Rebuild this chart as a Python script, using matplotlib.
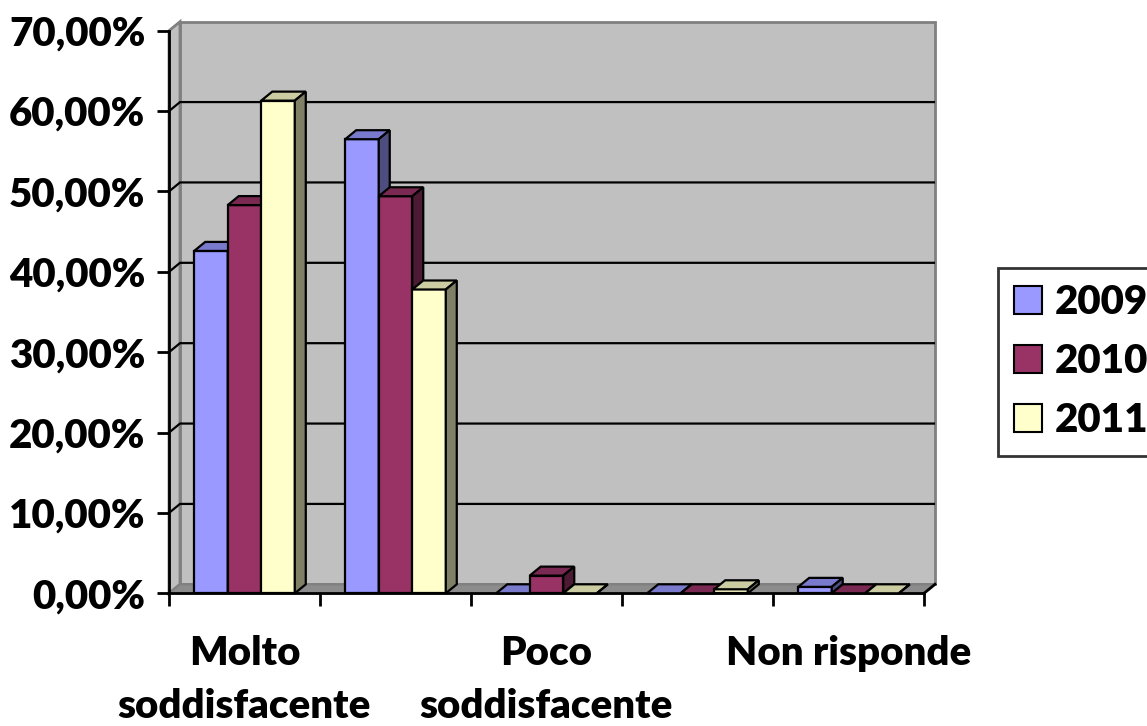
import numpy as np
import matplotlib.pyplot as plt
from matplotlib.patches import Polygon, Patch
from matplotlib.colors import to_rgb

# data (percent)
categories = ["Molto\nsoddisfacente", "Soddisfacente", "Poco\nsoddisfacente",
              "Per niente\nsoddisfacente", "Non risponde"]
years = ["2009", "2010", "2011"]
v2009 = [42.6, 56.5, 0.0, 0.0, 0.8]
v2010 = [48.3, 49.4, 2.2, 0.0, 0.0]
v2011 = [61.3, 37.8, 0.0, 0.5, 0.0]
series = [v2009, v2010, v2011]
colors = ["#9999FF", "#993366", "#FFFFCC"]
yticks = np.arange(0, 71, 10)

plt.rcParams['font.family'] = ['Lato', 'DejaVu Sans']
plt.rcParams['font.weight'] = 'heavy'
FS = 29

def shade(c, f):
    r, g, b = to_rgb(c)
    return (r * f, g * f, b * f)

fig = plt.figure(figsize=(11.47, 7.26), dpi=100)
W, H = 755, 562.6
ax = fig.add_axes([169 / 1147, 1 - 593.3 / 726, W / 1147, H / 726])
n = len(categories)
ymax = 70
ax.set_xlim(0, n)
ax.set_ylim(0, ymax)

# depth of the fake 3d box, pixels -> data units
dx = 11 * n / W
dy = 9 * ymax / H

# back wall, side wall, floor
ax.add_patch(Polygon([(dx, dy), (n + dx, dy), (n + dx, ymax + dy), (dx, ymax + dy)],
                     closed=True, fc="#C0C0C0", ec="#808080", lw=2, zorder=0.5, clip_on=False))
ax.add_patch(Polygon([(0, 0), (dx, dy), (dx, ymax + dy), (0, ymax)],
                     closed=True, fc="#C0C0C0", ec="#808080", lw=2, zorder=0.6, clip_on=False))
ax.add_patch(Polygon([(0, 0), (n, 0), (n + dx, dy), (dx, dy)],
                     closed=True, fc="#8C8C8C", ec="#808080", lw=1.5, zorder=0.7, clip_on=False))
for t in yticks[1:-1]:
    ax.plot([0, dx, n + dx], [t, t + dy, t + dy], color="black", lw=1.6,
            zorder=0.8, clip_on=False, solid_capstyle="butt")
ax.plot([n, n + dx], [0, dy], color="black", lw=2, zorder=0.9, clip_on=False)

# bars
bw = 0.222
z = 2
for i in range(n):
    for j, vals in enumerate(series):
        h = vals[i]
        x0 = i + 0.5 + (j - 1.5) * bw
        x1 = x0 + bw
        c = colors[j]
        ax.bar(x0, h, width=bw, align="edge", color=c, edgecolor="black",
               lw=1.6, zorder=z, clip_on=False)
        ax.add_patch(Polygon([(x0, h), (x1, h), (x1 + dx, h + dy), (x0 + dx, h + dy)],
                             closed=True, fc=shade(c, 0.8), ec="black", lw=1.6,
                             zorder=z, clip_on=False))
        ax.add_patch(Polygon([(x1, 0), (x1 + dx, dy), (x1 + dx, h + dy), (x1, h)],
                             closed=True, fc=shade(c, 0.5), ec="black", lw=1.6,
                             zorder=z, clip_on=False))
        z += 0.01

for s in ["top", "right"]:
    ax.spines[s].set_visible(False)
for s in ["left", "bottom"]:
    ax.spines[s].set_linewidth(2)
    ax.spines[s].set_zorder(1)
ax.set_facecolor("none")

ax.set_yticks(yticks)
ax.set_yticklabels([("%.2f%%" % t).replace(".", ",") for t in yticks], fontsize=FS)
ax.set_xticks(np.arange(n + 1))
ax.set_xticklabels([])
ax.set_xticks(np.arange(n) + 0.5, minor=True)
ax.set_xticklabels([c if i % 2 == 0 else "" for i, c in enumerate(categories)],
                   minor=True, fontsize=FS, linespacing=1.55)
ax.tick_params(axis="both", which="major", direction="out", length=9, width=2)
ax.tick_params(axis="y", pad=8)
ax.tick_params(axis="x", which="minor", length=0, pad=30)

handles = [Patch(fc=c, ec="black", lw=1.5) for c in colors]
leg = fig.legend(handles, years, loc="upper left",
                 bbox_to_anchor=(998 / 1147, 1 - 268 / 726), bbox_transform=fig.transFigure,
                 fontsize=FS, frameon=True, fancybox=False, handlelength=0.7,
                 handleheight=0.7, handletextpad=0.3, labelspacing=0.55,
                 borderpad=0.4, borderaxespad=0)
leg.get_frame().set_edgecolor("black")
leg.get_frame().set_linewidth(2)

fig.savefig("out.png", dpi=100)
